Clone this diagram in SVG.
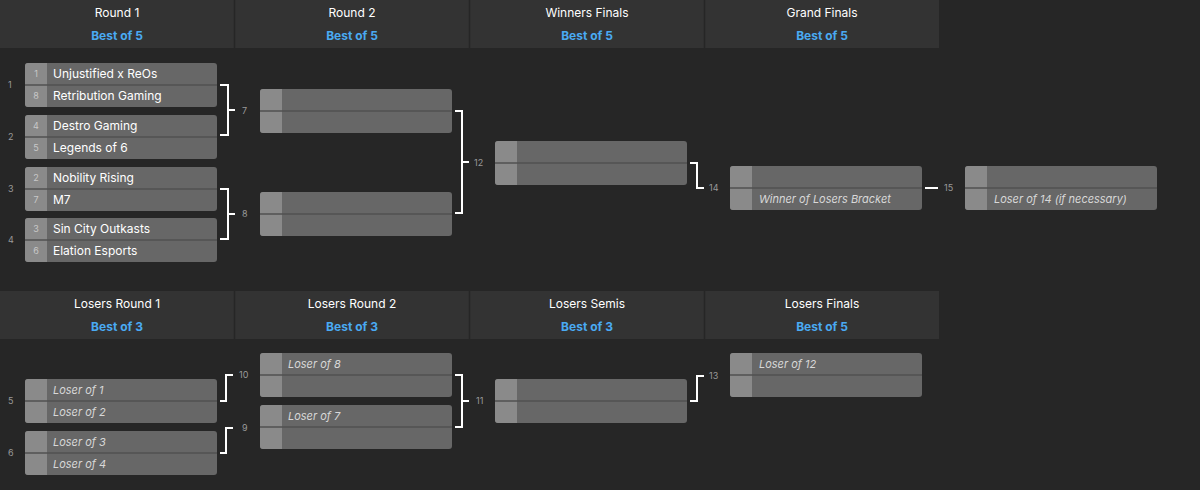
<svg xmlns="http://www.w3.org/2000/svg" width="1200" height="490" viewBox="0 0 1200 490">
<defs>
<style>
text{font-family:Inter,"Liberation Sans",sans-serif}
.h{fill:#ffffff;font-size:12px;text-anchor:middle}
.b{fill:#4aaaf2;font-size:12px;font-weight:bold;text-anchor:middle}
.box{fill:#676767}
.seed{fill:#8a8a8a}
.div{stroke:#505050;stroke-width:1.5}
.t{fill:#ffffff;font-size:12px}
.i{fill:#d8d8d8;font-size:11px;font-style:italic}
.s{fill:#c8c8c8;font-size:9px;text-anchor:middle}
.n{fill:#9a9a9a;font-size:9px}
.c{fill:none;stroke:#ffffff;stroke-width:2}
</style>
<g id="m">
<rect class="box" x="0" y="0" width="192" height="44" rx="3"/>
<path class="seed" d="M3 0H22V44H3A3 3 0 0 1 0 41V3A3 3 0 0 1 3 0Z"/>
<line class="div" x1="0" y1="22" x2="192" y2="22"/>
</g>
</defs>
<rect width="1200" height="490" fill="#262626"/>
<g id="headers">
<rect x="0" y="0" width="939" height="48" fill="#333333"/>
<rect x="0" y="291" width="939" height="48" fill="#333333"/>
<g stroke="#262626" stroke-width="1.5">
<line x1="234.5" y1="0" x2="234.5" y2="48"/><line x1="469.5" y1="0" x2="469.5" y2="48"/><line x1="704.5" y1="0" x2="704.5" y2="48"/>
<line x1="234.5" y1="291" x2="234.5" y2="339"/><line x1="469.5" y1="291" x2="469.5" y2="339"/><line x1="704.5" y1="291" x2="704.5" y2="339"/>
</g>
<text class="h" x="117" y="17">Round 1</text><text class="b" x="117" y="40">Best of 5</text>
<text class="h" x="352" y="17">Round 2</text><text class="b" x="352" y="40">Best of 5</text>
<text class="h" x="587" y="17">Winners Finals</text><text class="b" x="587" y="40">Best of 5</text>
<text class="h" x="822" y="17">Grand Finals</text><text class="b" x="822" y="40">Best of 5</text>
<text class="h" x="117" y="308">Losers Round 1</text><text class="b" x="117" y="331">Best of 3</text>
<text class="h" x="352" y="308">Losers Round 2</text><text class="b" x="352" y="331">Best of 3</text>
<text class="h" x="587" y="308">Losers Semis</text><text class="b" x="587" y="331">Best of 3</text>
<text class="h" x="822" y="308">Losers Finals</text><text class="b" x="822" y="331">Best of 5</text>
</g>
<g id="match1"><use href="#m" x="25" y="63"/><text class="n" x="8" y="88">1</text>
<text class="s" x="36" y="77">1</text><text class="t" x="53" y="78">Unjustified x ReOs</text>
<text class="s" x="36" y="99">8</text><text class="t" x="53" y="100">Retribution Gaming</text></g>
<g id="match2"><use href="#m" x="25" y="115"/><text class="n" x="8" y="140">2</text>
<text class="s" x="36" y="129">4</text><text class="t" x="53" y="130">Destro Gaming</text>
<text class="s" x="36" y="151">5</text><text class="t" x="53" y="152">Legends of 6</text></g>
<g id="match3"><use href="#m" x="25" y="167"/><text class="n" x="8" y="192">3</text>
<text class="s" x="36" y="181">2</text><text class="t" x="53" y="182">Nobility Rising</text>
<text class="s" x="36" y="203">7</text><text class="t" x="53" y="204">M7</text></g>
<g id="match4"><use href="#m" x="25" y="218"/><text class="n" x="8" y="243">4</text>
<text class="s" x="36" y="232">3</text><text class="t" x="53" y="233">Sin City Outkasts</text>
<text class="s" x="36" y="254">6</text><text class="t" x="53" y="255">Elation Esports</text></g>
<g id="match7"><use href="#m" x="260" y="89"/><text class="n" x="242" y="114">7</text></g>
<g id="match8"><use href="#m" x="260" y="192"/><text class="n" x="242" y="217">8</text></g>
<g id="match12"><use href="#m" x="495" y="141"/><text class="n" x="474" y="166">12</text></g>
<g id="match14"><use href="#m" x="730" y="166"/><text class="n" x="709" y="191">14</text>
<text class="i" x="759" y="203">Winner of Losers Bracket</text></g>
<g id="match15"><use href="#m" x="965" y="166"/><text class="n" x="944" y="191">15</text>
<text class="i" x="994" y="203">Loser of 14 (if necessary)</text></g>
<g id="match5"><use href="#m" x="25" y="379"/><text class="n" x="8" y="404">5</text>
<text class="i" x="53" y="394">Loser of 1</text><text class="i" x="53" y="416">Loser of 2</text></g>
<g id="match6"><use href="#m" x="25" y="431"/><text class="n" x="8" y="456">6</text>
<text class="i" x="53" y="446">Loser of 3</text><text class="i" x="53" y="468">Loser of 4</text></g>
<g id="match10"><use href="#m" x="260" y="353"/><text class="n" x="239" y="378">10</text>
<text class="i" x="288" y="368">Loser of 8</text></g>
<g id="match9"><use href="#m" x="260" y="405"/><text class="n" x="242" y="431">9</text>
<text class="i" x="288" y="420">Loser of 7</text></g>
<g id="match11"><use href="#m" x="495" y="379"/><text class="n" x="476" y="404">11</text></g>
<g id="match13"><use href="#m" x="730" y="353"/><text class="n" x="709" y="379">13</text>
<text class="i" x="759" y="368">Loser of 12</text></g>
<g id="connectors">
<path class="c" d="M220 85H228V135H220M228 110H235"/>
<path class="c" d="M220 189H228V239H220M228 214H235"/>
<path class="c" d="M455 111H462V213H455M462 162H469"/>
<path class="c" d="M690 163H697V188H704"/>
<line class="c" x1="925" y1="188" x2="938" y2="188"/>
<path class="c" d="M220 401H226V375H233"/>
<path class="c" d="M220 453H226V428H233"/>
<path class="c" d="M455 375H462V427H455M462 401H469"/>
<path class="c" d="M690 401H697V376H704"/>
</g>
</svg>
